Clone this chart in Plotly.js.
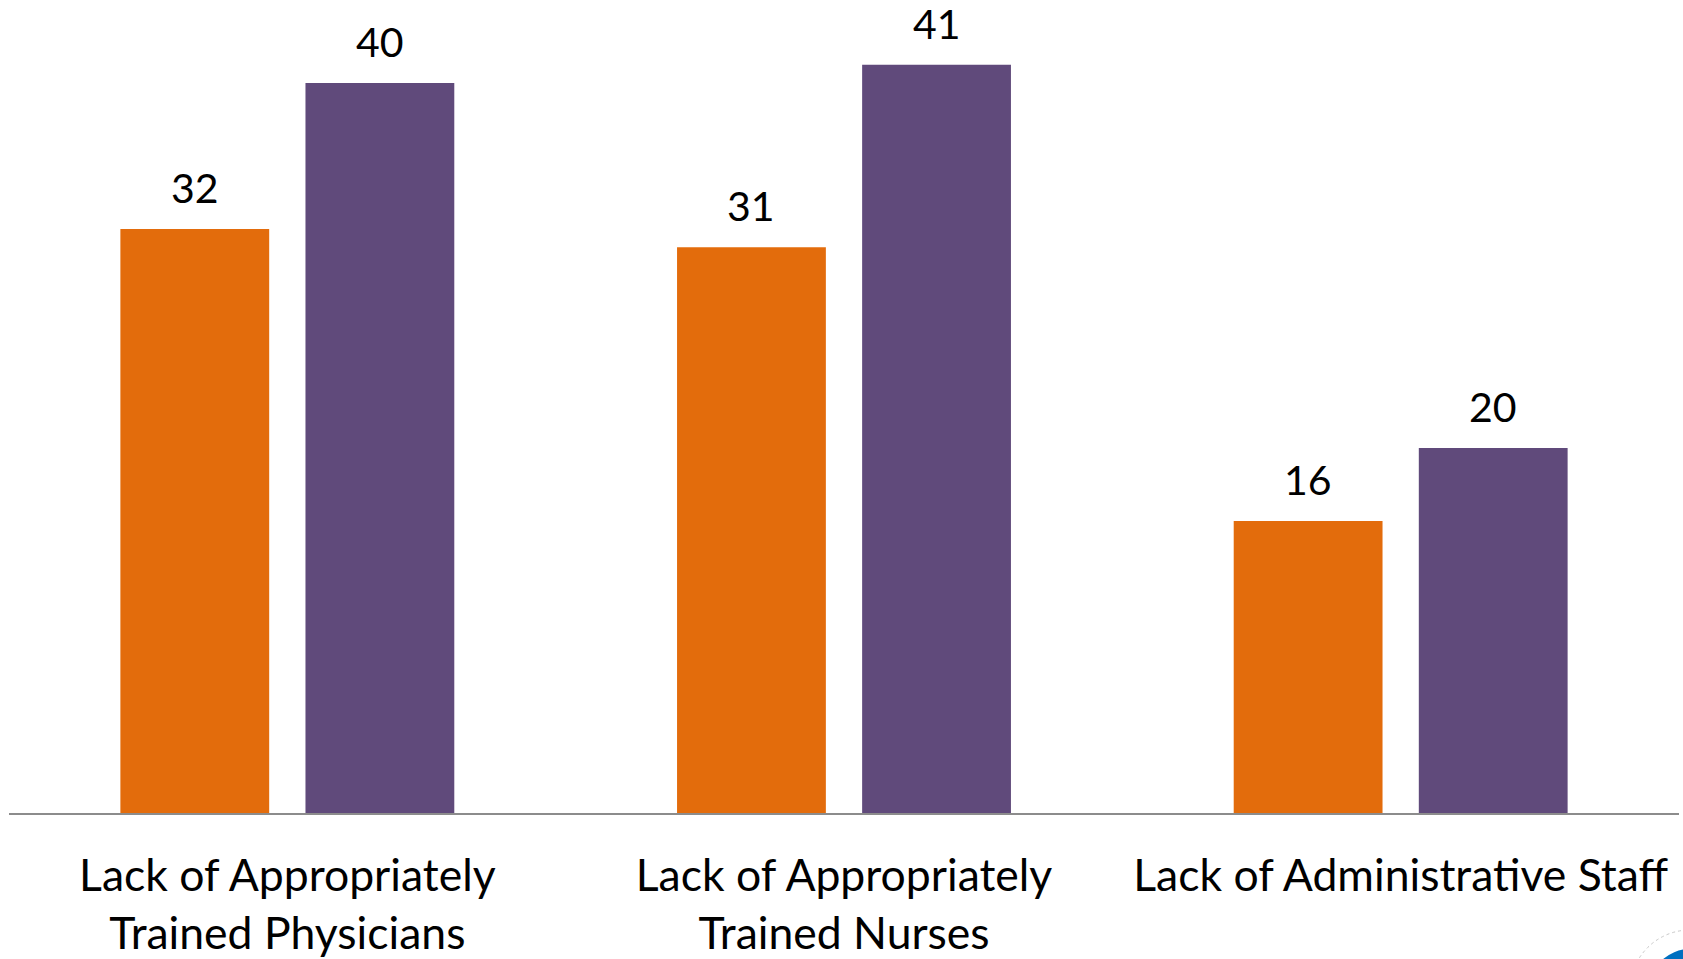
<!DOCTYPE html>
<html>
<head>
<meta charset="utf-8">
<script src="https://cdn.plot.ly/plotly-3.0.1.min.js"></script>
<style>
  html, body { margin: 0; padding: 0; background: #ffffff; }
  #chart { width: 1683px; height: 959px; }
</style>
</head>
<body>
<div id="chart"></div>
<script>
const categories = [
  "Lack of Appropriately<br>Trained Physicians",
  "Lack of Appropriately<br>Trained Nurses",
  "Lack of Administrative Staff"
];
const seriesA = [32, 31, 16];
const seriesB = [40, 41, 20];

const FONT = "Lato, 'Open Sans', sans-serif";
const BARGAP = 0.335;
const BARGROUPGAP = 0.196;
const seriesList = [seriesA, seriesB];
const colors = ["#E36C0C", "#604A7B"];

const traces = seriesList.map((vals, k) => ({
  type: "bar",
  name: k === 0 ? "Series A" : "Series B",
  x: categories,
  y: vals,
  marker: { color: colors[k] },
  hoverinfo: "skip"
}));

// value labels placed at each bar's centre (derived from the bar gap settings)
const slot = (1 - BARGAP) / seriesList.length;
const annotations = [];
seriesList.forEach((vals, k) => {
  const off = (2 * k + 1 - seriesList.length) * slot / 2;
  vals.forEach((v, i) => {
    annotations.push({
      xref: "x", yref: "y",
      x: i + off, y: v,
      text: String(v),
      showarrow: false,
      yanchor: "bottom",
      xanchor: "center",
      yshift: 15,
      font: { family: FONT, size: 41, color: "#000000" }
    });
  });
});

const layout = {
  width: 1683,
  height: 959,
  margin: { l: 9, r: 4, t: 10, b: 146 },
  paper_bgcolor: "#ffffff",
  plot_bgcolor: "#ffffff",
  showlegend: false,
  barmode: "group",
  bargap: BARGAP,
  bargroupgap: BARGROUPGAP,
  font: { family: FONT, color: "#000000" },
  xaxis: {
    type: "category",
    showline: true,
    linecolor: "#8C8C8C",
    linewidth: 2,
    ticks: "",
    showgrid: false,
    zeroline: false,
    tickfont: { family: FONT, size: 44.5, color: "#000000" },
    ticklabelstandoff: 23
  },
  yaxis: {
    range: [0, 44],
    visible: false,
    showgrid: false,
    zeroline: false
  },
  annotations: annotations,
  shapes: [
    {
      type: "circle", xref: "paper", yref: "paper",
      x0: 0.9707, x1: 1.0425, y0: -0.2951, y1: -0.1457,
      line: { color: "#C8C8C8", width: 1, dash: "dot" },
      fillcolor: "rgba(0,0,0,0)"
    },
    {
      type: "circle", xref: "paper", yref: "paper",
      x0: 0.9820, x1: 1.0311, y0: -0.2715, y1: -0.1694,
      line: { width: 0 },
      fillcolor: "#0070C0"
    }
  ]
};

Plotly.newPlot("chart", traces, layout, { displayModeBar: false, staticPlot: true });
</script>
</body>
</html>
